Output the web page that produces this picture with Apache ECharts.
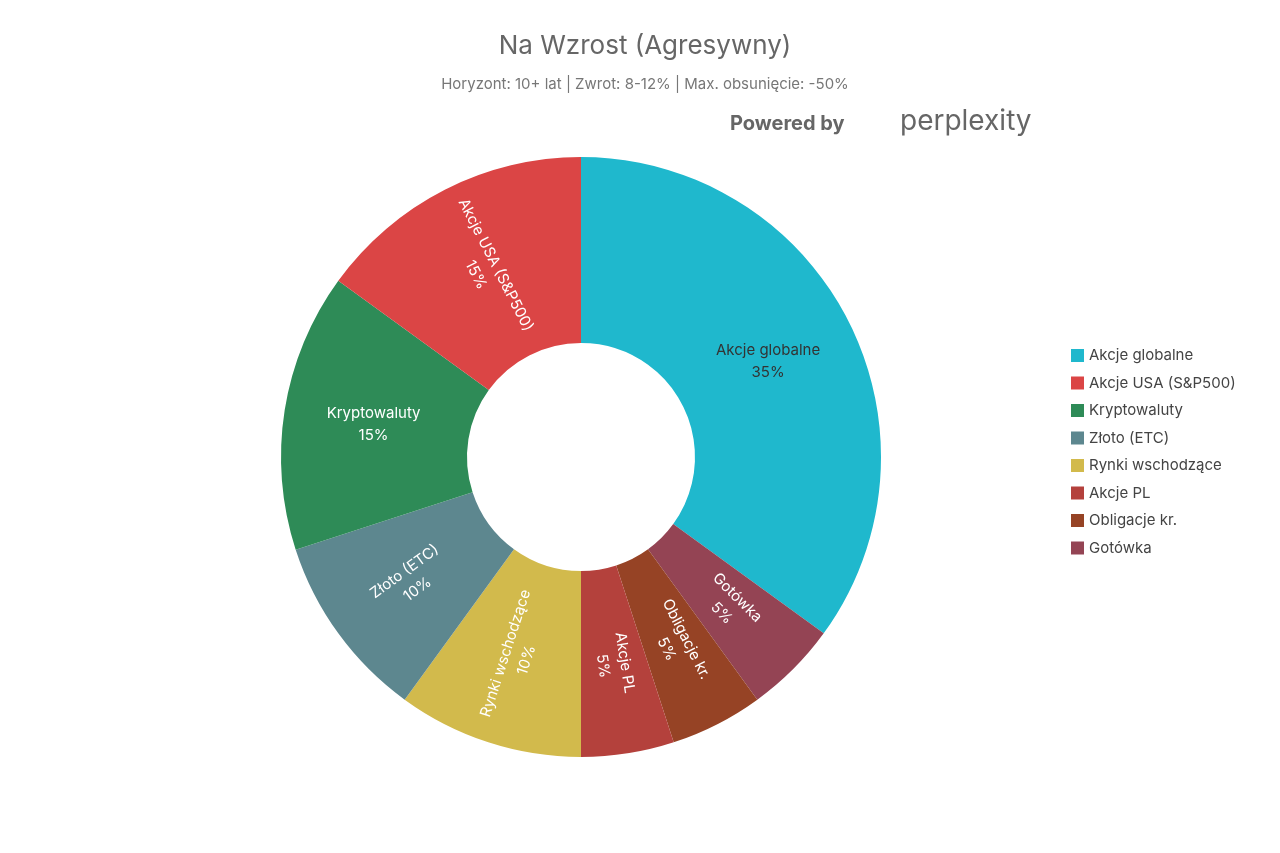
<!DOCTYPE html>
<html><head><meta charset="utf-8">
<script src="https://cdn.jsdelivr.net/npm/echarts@6/dist/echarts.min.js"></script>
<style>html,body{margin:0;background:#fff}#c{width:1280px;height:853px}</style>
</head><body><div id="c"></div>
<script>
const categories = ['Akcje globalne','Gotówka','Obligacje kr.','Akcje PL','Rynki wschodzące','Złoto (ETC)','Kryptowaluty','Akcje USA (S&P500)'];
const values = [35,5,5,5,10,10,15,15];
const colors = ['#1FB8CD','#944454','#964325','#B4413C','#D2BA4C','#5D878F','#2E8B57','#DB4545'];
const legendOrder = ['Akcje globalne','Akcje USA (S&P500)','Kryptowaluty','Złoto (ETC)','Rynki wschodzące','Akcje PL','Obligacje kr.','Gotówka'];
const horizontal = ['Akcje globalne','Kryptowaluty'];
const chart = echarts.init(document.getElementById('c'));
chart.setOption({
  animation:false,
  title:{text:'Na Wzrost (Agresywny)',subtext:'Horyzont: 10+ lat | Zwrot: 8-12% | Max. obsunięcie: -50%',left:640,textAlign:'center',top:28,
    textStyle:{fontSize:26,color:'#666',fontWeight:'normal',fontFamily:'Inter'},
    subtextStyle:{fontSize:15,color:'#777',fontFamily:'Inter'},itemGap:18},
  graphic:[{type:'text',left:730,top:114,style:{text:'Powered by',fontSize:20,fontWeight:'bold',fill:'#666',fontFamily:'Inter'}},
           {type:'text',left:900,top:108,style:{text:'perplexity',fontSize:28,fill:'#666',fontFamily:'Inter'}}],
  legend:{orient:'vertical',left:1066,top:343,itemWidth:13,itemHeight:13,itemGap:12.5,icon:'rect',data:legendOrder,
    textStyle:{fontSize:15,color:'#444',fontFamily:'Inter'}},
  series:[{type:'pie',center:[581,457],radius:[114,300],startAngle:90,clockwise:true,
    label:{position:'inside',rotate:'radial',color:'#fff',fontSize:15,fontFamily:'Inter',formatter:'{b}\n{d}%',lineHeight:22},
    labelLine:{show:false},
    data:categories.map((n,i)=>({name:n,value:values[i],itemStyle:{color:colors[i]},
      label:Object.assign(horizontal.includes(n)?{rotate:0}:{}, n==='Akcje globalne'?{color:'#333'}:{})}))
  }]
});
</script></body></html>
